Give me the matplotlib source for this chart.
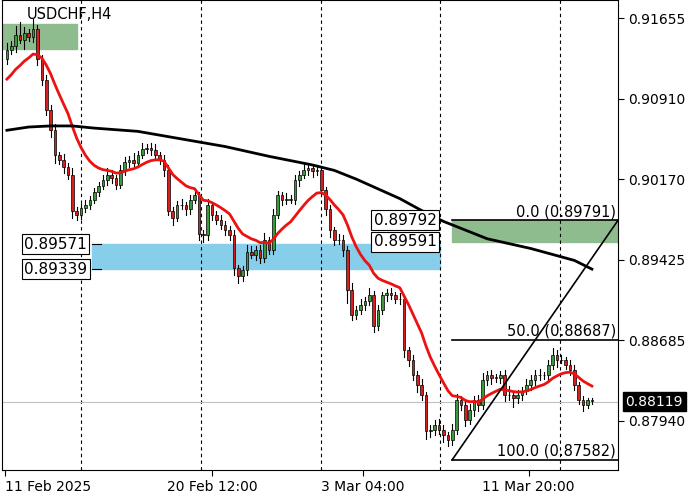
import matplotlib
matplotlib.use("Agg")
import matplotlib.pyplot as plt
import matplotlib.patches as mpatches
import pandas as pd

# H4 closes
closes = [
    0.9136, 0.9140, 0.9150, 0.9145, 0.9152, 0.9148, 0.9155, 0.9128, 0.9108, 0.9081, 0.9062, 0.9039, 0.9035, 0.9028, 0.9021,
    0.8988, 0.8984, 0.8990, 0.8993, 0.8998, 0.9005, 0.9011, 0.9016, 0.9021,
    0.9018, 0.9012, 0.9025, 0.9033, 0.9035, 0.9032, 0.9039, 0.9045, 0.9046, 0.9044, 0.9039, 0.9035, 0.9025,
    0.8988, 0.8981, 0.8993, 0.8993, 0.8989, 0.8998, 0.9002, 0.8966,
    0.8965, 0.8993, 0.8984, 0.8979, 0.8975, 0.8970, 0.8965, 0.8935,
    0.8928, 0.8933, 0.8950, 0.8947, 0.8952, 0.8944, 0.8961, 0.8952,
    0.8984, 0.9002, 0.8998, 0.8998, 0.8998, 0.9016, 0.9021, 0.9025, 0.9027, 0.9024, 0.9025, 0.9007, 0.8989,
    0.8970, 0.8961, 0.8961, 0.8952, 0.8915, 0.8892, 0.8896, 0.8901, 0.8905, 0.8910, 0.8882, 0.8896, 0.8910, 0.8912, 0.8910, 0.8906, 0.8906, 0.8859,
    0.8850, 0.8836, 0.8827, 0.8818, 0.8785, 0.8786, 0.8790, 0.8786, 0.8781, 0.8776, 0.8786,
    0.8813, 0.8809, 0.8795, 0.8804, 0.8813, 0.8809, 0.8832, 0.8836, 0.8834, 0.8834, 0.8836,
    0.8818, 0.8818, 0.8815, 0.8818, 0.8822, 0.8827, 0.8832, 0.8836, 0.8836, 0.8836, 0.8846, 0.8855, 0.8850, 0.8850, 0.8846, 0.8841, 0.8827, 0.8813, 0.8809, 0.8813, 0.8812,
]
first_open = 0.9128
# wick extensions in pips (0.0001)
wick_up = [6, 4, 8, 12, 5, 3, 10, 4, 3, 5, 4, 6, 3, 5, 4,
           6, 3, 4, 5, 3, 4, 3, 5, 6,
           4, 3, 5, 4, 3, 6, 4, 5, 3, 4, 5, 3, 4,
           5, 3, 4, 6, 3, 4, 5, 3,
           4, 6, 3, 4, 5, 3, 4, 5,
           3, 4, 6, 5, 3, 4, 6, 3,
           5, 4, 3, 6, 4, 5, 3, 6, 4, 3, 5, 4, 3,
           4, 3, 5, 4, 3, 6, 4, 5, 3, 7, 4, 5, 3, 4, 5, 3, 6, 4,
           3, 5, 4, 6, 3, 4, 5, 6, 4, 3, 5,
           6, 4, 5, 6, 4, 5, 6, 4, 5, 3, 4,
           5, 8, 4, 5, 3, 6, 4, 5, 6, 3, 4, 6, 4, 5, 3, 4, 5, 3, 4, 2, 2]
wick_dn = [5, 4, 6, 3, 8, 4, 5, 6, 4, 5, 6, 7, 4, 5, 4,
           7, 5, 4, 3, 4, 3, 4, 3, 4,
           5, 4, 3, 4, 5, 3, 4, 3, 4, 5, 3, 4, 5,
           4, 6, 3, 4, 5, 4, 3, 5,
           6, 4, 5, 3, 4, 5, 4, 6,
           7, 5, 4, 3, 5, 4, 3, 4,
           4, 3, 5, 4, 3, 4, 5, 3, 4, 5, 3, 4, 5,
           6, 5, 4, 6, 12, 5, 4, 3, 5, 4, 6, 4, 3, 5, 4, 3, 4, 6,
           5, 4, 6, 5, 8, 6, 5, 4, 6, 5, 4,
           4, 5, 6, 4, 5, 6, 4, 5, 6, 4, 5,
           6, 5, 8, 4, 5, 3, 4, 5, 4, 3, 5, 4, 6, 3, 4, 5, 4, 3, 6, 3, 2]

# fast MA seed value (from bars before the visible window)
fast_seed = 0.9105

# long moving average sampled along the chart
slow_idx = [0, 5, 10, 15, 20, 30, 40, 50, 60, 65, 70, 75, 80, 85, 90, 95, 100, 105, 110, 120, 130, 134]
slow_val = [0.9062, 0.9065, 0.9066, 0.9066, 0.9064, 0.9061, 0.9054, 0.9047, 0.9038, 0.9034, 0.9030, 0.9025,
            0.9017, 0.9008, 0.8999, 0.8988, 0.8978, 0.8970, 0.8962, 0.8953, 0.8942, 0.8934]

tick_prices = [0.91655, 0.90910, 0.90170, 0.89425, 0.88685, 0.87940]
date_labels = ["11 Feb 2025", "20 Feb 12:00", "3 Mar 04:00", "11 Mar 20:00"]
date_pos = [-0.5, 47, 81.5, 119.5]
vlines = [16.9, 44.5, 71.9, 99.3, 126.7]

supply_top, supply_bot = 0.89792, 0.89591
demand_top, demand_bot = 0.89571, 0.89339
fib0, fib50, fib100 = 0.89791, 0.88687, 0.87582
last_price = 0.88119

fig = plt.figure(figsize=(7, 5), dpi=100)
ax = fig.add_axes([0.003, 0.06, 0.88, 0.94])
ax.set_xlim(-1.1, 140)
ax.set_ylim(0.87488, 0.91821)

# zones
ax.add_patch(mpatches.Rectangle((-1.1, 0.9137), 17.1, 0.0023, color="#8fbc8f", zorder=1))
ax.add_patch(mpatches.Rectangle((19.4, demand_bot), 79.9, demand_top - demand_bot, color="#87ceeb", zorder=1))
ax.add_patch(mpatches.Rectangle((102, supply_bot), 38, supply_top - supply_bot, color="#8fbc8f", zorder=1))

for v in vlines:
    ax.axvline(v, color="black", ls=(0, (3, 3)), lw=0.8, zorder=1)
ax.axhline(last_price, color="#c0c0c0", lw=0.8, zorder=1)

prev = first_open
for i, c in enumerate(closes):
    o = prev
    hi = max(o, c) + wick_up[i] * 0.0001
    lo = min(o, c) - wick_dn[i] * 0.0001
    ax.plot([i, i], [lo, hi], color="black", lw=0.8, zorder=2)
    col = "#3a9a3a" if c >= o else "#d62020"
    body = max(abs(c - o), 0.00003)
    ax.add_patch(mpatches.Rectangle((i - 0.3, min(o, c)), 0.6, body,
                                    facecolor=col, edgecolor="black", lw=0.5, zorder=3))
    prev = c

fast = pd.Series([fast_seed] + closes).ewm(span=14, adjust=False).mean()[1:]
ax.plot(range(len(closes)), fast, color="#ee1111", lw=2, zorder=4)
ax.plot(slow_idx, slow_val, color="black", lw=2, zorder=4)

# fibonacci
for lvl, name in [(fib0, "0.0"), (fib50, "50.0"), (fib100, "100.0")]:
    ax.plot([102, 140], [lvl, lvl], color="black", lw=1.2, zorder=4)
    ax.text(139.5, lvl + 0.0001, f"{name} ({lvl:.5f})", ha="right", va="bottom", fontsize=10.5, zorder=5)
ax.plot([102, 140], [fib100, fib0], color="black", lw=1.2, zorder=4)

box = dict(boxstyle="square,pad=0.15", fc="white", ec="black", lw=0.8)
for y, x in [(demand_top, 4.0), (demand_bot, 4.0), (supply_top, 84.0), (supply_bot, 84.0)]:
    ax.text(x, y, f"{y:.5f}", ha="left", va="center", fontsize=11, bbox=box, zorder=6)
for y in (demand_top, demand_bot):
    ax.plot([19.4, 21.5], [y, y], color="black", lw=0.8, zorder=6)

ax.text(0.04, 0.985, "USDCHF,H4", transform=ax.transAxes, fontsize=10.5, va="top", zorder=6)

ax.yaxis.tick_right()
ax.set_yticks(tick_prices)
ax.set_yticklabels([f"{p:.5f}" for p in tick_prices], fontsize=10)
ax.tick_params(axis="y", length=4, direction="out")
ax.set_xticks(date_pos)
ax.set_xticklabels(date_labels, fontsize=10)
for lab in ax.get_xticklabels()[:1]:
    lab.set_ha("left")
ax.tick_params(axis="x", length=4)
for s in ax.spines.values():
    s.set_linewidth(0.8)

ax.text(1.012, (last_price - 0.87488) / (0.91821 - 0.87488), f"{last_price:.5f}",
        transform=ax.transAxes, ha="left", va="center", fontsize=10, color="white",
        bbox=dict(boxstyle="square,pad=0.2", fc="black", ec="black"))

fig.savefig("out.png", dpi=100)
